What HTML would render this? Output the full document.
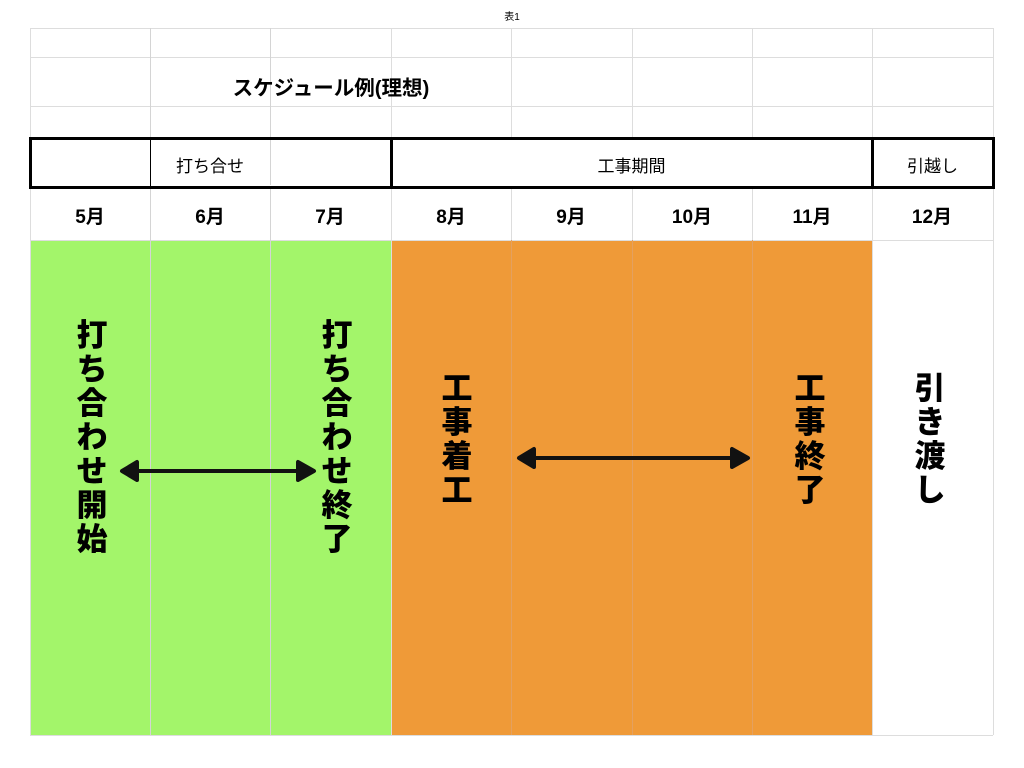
<!DOCTYPE html><html><head><meta charset="utf-8"><style>
body{margin:0;width:1024px;height:768px;background:#fff;position:relative;overflow:hidden;font-family:"Liberation Sans","Noto Sans CJK JP",sans-serif}
.a{position:absolute}
.hl{position:absolute;height:1px;background:#ddd}
.vl{position:absolute;width:1px;background:#ddd}
.m{position:absolute;top:202px;width:120px;text-align:center;font-weight:bold;font-size:19px}
.v{position:absolute;width:40px;text-align:center;font-weight:900;font-size:31px;line-height:34px}
</style></head><body>
<div class="a" style="left:0;width:1024px;top:8px;text-align:center;font-size:10px">表1</div>
<div class="a" style="left:30px;top:240px;width:361px;height:495px;background:#a3f56a"></div>
<div class="a" style="left:391px;top:240px;width:481px;height:495px;background:#ef9a38"></div>
<div class="hl" style="left:30px;width:963px;top:28px"></div>
<div class="hl" style="left:30px;width:963px;top:57px"></div>
<div class="hl" style="left:30px;width:963px;top:106px"></div>
<div class="hl" style="left:30px;width:963px;top:240px"></div>
<div class="hl" style="left:30px;width:963px;top:735px"></div>
<div class="vl" style="left:30px;top:28px;height:707px"></div>
<div class="vl" style="left:150px;top:28px;height:707px;background:#d4d4d4"></div>
<div class="vl" style="left:270px;top:28px;height:707px;background:#d4d4d4"></div>
<div class="vl" style="left:391px;top:28px;height:707px"></div>
<div class="vl" style="left:511px;top:28px;height:707px"></div>
<div class="vl" style="left:632px;top:28px;height:707px"></div>
<div class="vl" style="left:752px;top:28px;height:707px"></div>
<div class="vl" style="left:511px;top:240px;height:495px;background:#e3a060"></div>
<div class="vl" style="left:632px;top:240px;height:495px;background:#e3a060"></div>
<div class="vl" style="left:752px;top:240px;height:495px;background:#e3a060"></div>
<div class="vl" style="left:872px;top:28px;height:707px"></div>
<div class="vl" style="left:993px;top:28px;height:707px"></div>
<div class="a" style="left:130px;width:402px;top:71px;text-align:center;font-weight:bold;font-size:20.5px">スケジュール例(理想)</div>
<div class="a" style="left:29px;top:137px;width:960px;height:46px;border:3px solid #000;background:#fff"></div>
<div class="a" style="left:150px;top:137px;width:1px;height:51px;background:#000"></div>
<div class="a" style="left:270px;top:140px;width:1px;height:45px;background:#d4d4d4"></div>
<div class="a" style="left:390px;top:137px;width:3px;height:51px;background:#000"></div>
<div class="a" style="left:871px;top:137px;width:3px;height:51px;background:#000"></div>
<div class="a" style="left:150px;width:120px;top:152px;text-align:center;font-size:17px">打ち合せ</div>
<div class="a" style="left:391px;width:481px;top:152px;text-align:center;font-size:17px">工事期間</div>
<div class="a" style="left:872px;width:121px;top:152px;text-align:center;font-size:17px">引越し</div>
<div class="m" style="left:30px">5月</div><div class="m" style="left:150px">6月</div><div class="m" style="left:270px">7月</div><div class="m" style="left:391px">8月</div><div class="m" style="left:511px">9月</div><div class="m" style="left:632px">10月</div><div class="m" style="left:752px">11月</div><div class="m" style="left:872px">12月</div>
<div class="v" style="left:72px;top:319px">打<br>ち<br>合<br>わ<br>せ<br>開<br>始</div>
<div class="v" style="left:317px;top:319px">打<br>ち<br>合<br>わ<br>せ<br>終<br>了</div>
<div class="v" style="left:437px;top:372px">工<br>事<br>着<br>工</div>
<div class="v" style="left:790px;top:372px">工<br>事<br>終<br>了</div>
<div class="v" style="left:910px;top:372px">引<br>き<br>渡<br>し</div>
<svg class="a" style="left:0;top:0" width="1024" height="768">
<g stroke="#111" stroke-width="4" fill="#111" stroke-linejoin="round">
<line x1="132" y1="471" x2="302" y2="471"/>
<polygon points="122,471 137,462 137,480"/>
<polygon points="314,471 298,462 298,480"/>
<line x1="528" y1="458" x2="738" y2="458"/>
<polygon points="519,458 534,449 534,467"/>
<polygon points="748,458 732,449 732,467"/>
</g></svg>
</body></html>
